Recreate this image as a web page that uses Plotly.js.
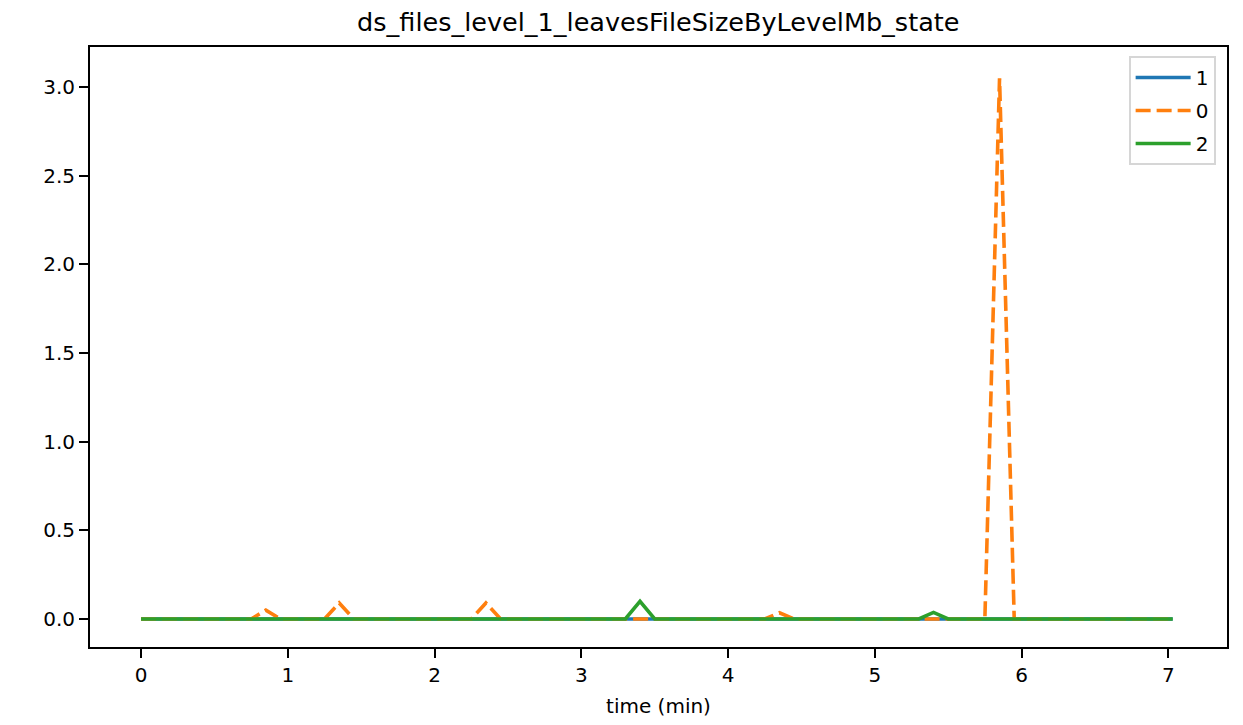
<!DOCTYPE html>
<html>
<head>
<meta charset="utf-8">
<script src="https://cdn.plot.ly/plotly-3.0.1.min.js"></script>
<style>html,body{margin:0;padding:0;background:#fff;}#chart{width:1243px;height:725px;}</style>
</head>
<body>
<div id="chart"></div>
<script>
const times = [0, 0.15, 0.25, 0.35, 0.45, 0.55, 0.65, 0.75, 0.85, 0.95, 1.05, 1.15, 1.25, 1.35, 1.45, 1.55, 1.65, 1.75, 1.85, 1.95, 2.05, 2.15, 2.25, 2.35, 2.45, 2.55, 2.65, 2.75, 2.85, 2.95, 3.05, 3.15, 3.3, 3.4, 3.5, 3.6, 3.7, 3.8, 3.9, 4.0, 4.1, 4.25, 4.35, 4.45, 4.55, 4.65, 4.75, 4.85, 4.95, 5.05, 5.15, 5.3, 5.4, 5.5, 5.6, 5.75, 5.85, 5.95, 6.05, 6.15, 6.25, 6.35, 6.45, 6.55, 6.65, 6.75, 6.85, 6.95, 7.03];
const series1 = [0,0,0,0,0,0,0,0,0,0,0,0,0,0,0,0,0,0,0,0,0,0,0,0,0,0,0,0,0,0,0,0,0,0,0,0,0,0,0,0,0,0,0,0,0,0,0,0,0,0,0,0,0,0,0,0,0,0,0,0,0,0,0,0,0,0,0,0,0];
const series0 = [0,0,0,0,0,0,0,0,0.05,0,0,0,0,0.09,0,0,0,0,0,0,0,0,0,0.09,0,0,0,0,0,0,0,0,0,0,0,0,0,0,0,0,0,0,0.035,0,0,0,0,0,0,0,0,0,0,0,0,0,3.05,0,0,0,0,0,0,0,0,0,0,0,0];
const series2 = [0,0,0,0,0,0,0,0,0,0,0,0,0,0,0,0,0,0,0,0,0,0,0,0,0,0,0,0,0,0,0,0,0,0.1,0,0,0,0,0,0,0,0,0,0,0,0,0,0,0,0,0,0,0.037,0,0,0,0,0,0,0,0,0,0,0,0,0,0,0,0];
const names = ["1", "0", "2"];
const colors = ["#1f77b4", "#ff7f0e", "#2ca02c"];
const dashes = ["solid", "15px,6px", "solid"];
const ys = [series1, series0, series2];

const traces = ys.map((y, i) => ({
  x: times, y: y, type: "scatter", mode: "lines", name: names[i], legendgroup: "g" + i,
  line: {color: colors[i], width: 3.6, dash: dashes[i]}
}));

const axisCommon = {
  showgrid: false, zeroline: false, showline: true, linecolor: "#000", linewidth: 2,
  mirror: true, ticks: "outside", ticklen: 9, tickwidth: 2, tickcolor: "#000",
  tickfont: {family: "DejaVu Sans", size: 20, color: "#000"}
};

const layout = {
  width: 1243, height: 725,
  margin: {l: 90, r: 16, t: 47, b: 78},
  paper_bgcolor: "#fff", plot_bgcolor: "#fff",
  title: {text: "ds_files_level_1_leavesFileSizeByLevelMb_state", x: 0.5296, xanchor: "center", y: 0.9697, yanchor: "middle",
    font: {family: "DejaVu Sans", size: 25.5, color: "#000"}},
  xaxis: Object.assign({}, axisCommon, {range: [-0.348, 7.4], tickvals: [0,1,2,3,4,5,6,7],
    title: {text: "time (min)", font: {family: "DejaVu Sans", size: 20, color: "#000"}, standoff: 13}}),
  yaxis: Object.assign({}, axisCommon, {range: [-0.158, 3.226], tickvals: [0,0.5,1,1.5,2,2.5,3],
    ticktext: ["0.0","0.5","1.0","1.5","2.0","2.5","3.0"]}),
  showlegend: true,
  legend: {x: 0.99, xanchor: "right", y: 0.985, yanchor: "top", bgcolor: "rgba(255,255,255,0.8)",
    bordercolor: "#d6d6d6", borderwidth: 2, tracegroupgap: 4, traceorder: "grouped", itemwidth: 55,
    font: {family: "DejaVu Sans", size: 20, color: "#000"}}
};

Plotly.newPlot("chart", traces, layout, {displayModeBar: false});
</script>
</body>
</html>
